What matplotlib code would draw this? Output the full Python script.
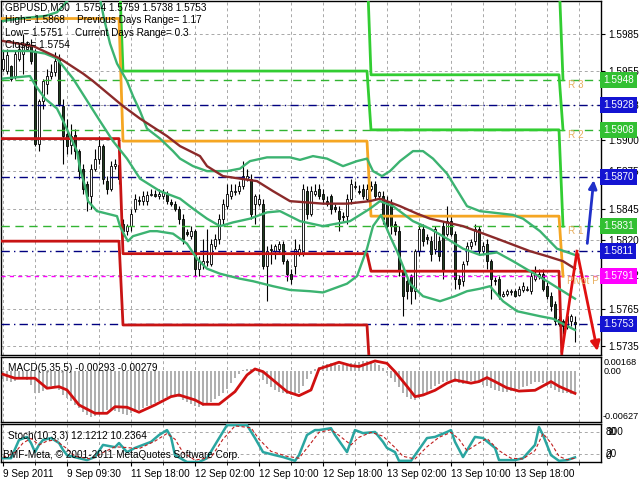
import numpy as np
import matplotlib.pyplot as plt
import matplotlib.transforms as mtransforms

# ---- GBPUSD M30 candles (bar index 0..143) ----
opens = [1.5957, 1.5955, 1.5959, 1.5951, 1.5965, 1.5969, 1.5973, 1.5975, 1.5971, 1.5897,
         1.5931, 1.5945, 1.5951, 1.5954, 1.5965, 1.5927, 1.5905, 1.5896, 1.5904, 1.5891,
         1.5877, 1.5865, 1.5855, 1.5877, 1.5885, 1.5895, 1.5867, 1.5861, 1.5879, 1.5880,
         1.5833, 1.5827, 1.5831, 1.5845, 1.5852, 1.5851, 1.5851, 1.5856, 1.5857, 1.5855,
         1.5855, 1.5857, 1.5850, 1.5849, 1.5845, 1.5837, 1.5826, 1.5823, 1.5827, 1.5797,
         1.5801, 1.5802, 1.5801, 1.5815, 1.5821, 1.5837, 1.5847, 1.5855, 1.5858, 1.5859,
         1.5863, 1.5869, 1.5869, 1.5849, 1.5849, 1.5849, 1.5799, 1.5813, 1.5811, 1.5813,
         1.5817, 1.5803, 1.5793, 1.5799, 1.5809, 1.5809, 1.5859, 1.5841, 1.5857, 1.5861,
         1.5857, 1.5851, 1.5855, 1.5846, 1.5843, 1.5839, 1.5839, 1.5853, 1.5862, 1.5859,
         1.5861, 1.5853, 1.5861, 1.5865, 1.5855, 1.5855, 1.5851, 1.5849, 1.5833, 1.5827,
         1.5795, 1.5787, 1.5791, 1.5779, 1.5811, 1.5829, 1.5822, 1.5819, 1.5813, 1.5819,
         1.5831, 1.5825, 1.5835, 1.5825, 1.5789, 1.5787, 1.5803, 1.5815, 1.5819, 1.5829,
         1.5811, 1.5817, 1.5803, 1.5788, 1.5789, 1.5775, 1.5777, 1.5778, 1.5779, 1.5776,
         1.5780, 1.5780, 1.5779, 1.5789, 1.5791, 1.5793, 1.5783, 1.5775, 1.5769, 1.5757,
         1.5755, 1.5751, 1.5755, 1.5754]
highs = [1.5971, 1.5973, 1.5960, 1.5971, 1.5977, 1.5985, 1.5979, 1.5981, 1.5973, 1.5933,
         1.5949, 1.5957, 1.5961, 1.5970, 1.5969, 1.5933, 1.5917, 1.5913, 1.5909, 1.5893,
         1.5881, 1.5867, 1.5881, 1.5893, 1.5903, 1.5897, 1.5871, 1.5883, 1.5885, 1.5883,
         1.5837, 1.5833, 1.5845, 1.5857, 1.5855, 1.5859, 1.5859, 1.5861, 1.5860, 1.5861,
         1.5861, 1.5859, 1.5853, 1.5851, 1.5847, 1.5841, 1.5829, 1.5831, 1.5829, 1.5807,
         1.5821, 1.5829, 1.5821, 1.5825, 1.5841, 1.5853, 1.5865, 1.5865, 1.5865, 1.5867,
         1.5883, 1.5877, 1.5873, 1.5857, 1.5857, 1.5853, 1.5815, 1.5817, 1.5817, 1.5819,
         1.5819, 1.5805, 1.5797, 1.5821, 1.5817, 1.5865, 1.5863, 1.5863, 1.5865, 1.5865,
         1.5861, 1.5855, 1.5857, 1.5849, 1.5847, 1.5842, 1.5857, 1.5869, 1.5867, 1.5864,
         1.5865, 1.5865, 1.5867, 1.5867, 1.5859, 1.5859, 1.5855, 1.5853, 1.5835, 1.5831,
         1.5799, 1.5791, 1.5793, 1.5813, 1.5832, 1.5833, 1.5825, 1.5823, 1.5831, 1.5823,
         1.5835, 1.5847, 1.5839, 1.5827, 1.5792, 1.5803, 1.5818, 1.5821, 1.5833, 1.5831,
         1.5818, 1.5821, 1.5805, 1.5790, 1.5791, 1.5779, 1.5781, 1.5781, 1.5781, 1.5783,
         1.5786, 1.5783, 1.5794, 1.5799, 1.5797, 1.5797, 1.5786, 1.5778, 1.5771, 1.5759,
         1.5757, 1.5761, 1.5761, 1.5759]
lows = [1.5955, 1.5953, 1.5947, 1.5949, 1.5963, 1.5953, 1.5971, 1.5961, 1.5895, 1.5891,
        1.5925, 1.5937, 1.5949, 1.5951, 1.5927, 1.5881, 1.5889, 1.5889, 1.5885, 1.5869,
        1.5857, 1.5843, 1.5845, 1.5875, 1.5881, 1.5865, 1.5857, 1.5859, 1.5877, 1.5865,
        1.5823, 1.5824, 1.5827, 1.5842, 1.5848, 1.5848, 1.5848, 1.5855, 1.5854, 1.5853,
        1.5853, 1.5849, 1.5847, 1.5843, 1.5833, 1.5817, 1.5823, 1.5821, 1.5791, 1.5791,
        1.5797, 1.5799, 1.5799, 1.5813, 1.5817, 1.5833, 1.5845, 1.5853, 1.5856, 1.5857,
        1.5861, 1.5867, 1.5837, 1.5833, 1.5847, 1.5797, 1.5771, 1.5801, 1.5805, 1.5809,
        1.5801, 1.5787, 1.5785, 1.5793, 1.5807, 1.5807, 1.5837, 1.5839, 1.5855, 1.5853,
        1.5849, 1.5847, 1.5841, 1.5842, 1.5827, 1.5835, 1.5833, 1.5849, 1.5861, 1.5857,
        1.5853, 1.5851, 1.5859, 1.5853, 1.5853, 1.5833, 1.5827, 1.5825, 1.5824, 1.5791,
        1.5759, 1.5773, 1.5769, 1.5773, 1.5807, 1.5815, 1.5817, 1.5803, 1.5809, 1.5803,
        1.5789, 1.5823, 1.5823, 1.5781, 1.5781, 1.5783, 1.5800, 1.5813, 1.5816, 1.5808,
        1.5809, 1.5797, 1.5773, 1.5784, 1.5773, 1.5774, 1.5775, 1.5776, 1.5774, 1.5775,
        1.5778, 1.5779, 1.5777, 1.5787, 1.5789, 1.5779, 1.5773, 1.5763, 1.5752, 1.5751,
        1.5745, 1.5749, 1.5751, 1.5738]
closes = [1.5965, 1.5968, 1.5949, 1.5969, 1.5973, 1.5977, 1.5977, 1.5963, 1.5897, 1.5931,
          1.5947, 1.5951, 1.5954, 1.5963, 1.5929, 1.5903, 1.5895, 1.5903, 1.5891, 1.5875,
          1.5861, 1.5855, 1.5877, 1.5885, 1.5895, 1.5869, 1.5861, 1.5879, 1.5881, 1.5869,
          1.5827, 1.5831, 1.5841, 1.5853, 1.5851, 1.5855, 1.5856, 1.5857, 1.5855, 1.5857,
          1.5858, 1.5851, 1.5849, 1.5845, 1.5837, 1.5821, 1.5825, 1.5827, 1.5797, 1.5803,
          1.5803, 1.5803, 1.5817, 1.5821, 1.5837, 1.5849, 1.5857, 1.5859, 1.5859, 1.5863,
          1.5871, 1.5871, 1.5841, 1.5855, 1.5853, 1.5799, 1.5811, 1.5812, 1.5815, 1.5817,
          1.5803, 1.5793, 1.5789, 1.5813, 1.5813, 1.5861, 1.5841, 1.5859, 1.5859, 1.5855,
          1.5853, 1.5849, 1.5845, 1.5845, 1.5837, 1.5838, 1.5853, 1.5865, 1.5863, 1.5858,
          1.5855, 1.5861, 1.5863, 1.5855, 1.5858, 1.5837, 1.5831, 1.5831, 1.5827, 1.5795,
          1.5775, 1.5779, 1.5779, 1.5811, 1.5829, 1.5819, 1.5821, 1.5809, 1.5829, 1.5807,
          1.5795, 1.5835, 1.5825, 1.5789, 1.5785, 1.5801, 1.5815, 1.5818, 1.5829, 1.5811,
          1.5815, 1.5803, 1.5789, 1.5787, 1.5775, 1.5777, 1.5779, 1.5779, 1.5775, 1.5781,
          1.5783, 1.5781, 1.5791, 1.5793, 1.5793, 1.5781, 1.5775, 1.5767, 1.5755, 1.5753,
          1.5751, 1.5759, 1.5759, 1.5753]

# ---- overlay indicators (read at the bars listed) ----
bb_up_bar = [0, 4, 10.5, 13.5, 15.5, 18, 21.75, 24.25, 25.25, 26.75, 28.5, 31, 32.5, 34.25, 36, 39.25,
             42.5, 44.25, 47.5, 51, 56, 59.25, 61.75, 66, 71.75, 74.25, 77.5, 81, 85, 88.5, 91, 92.5,
             94.75, 96.75, 99.25, 102.5, 105, 107.5, 111, 116, 119.25, 127.5, 130, 134.25, 138.5, 143]
bb_up = [1.5995, 1.5997, 1.5999, 1.6002, 1.6009, 1.6018, 1.6019, 1.6013, 1.5997, 1.5977, 1.5961, 1.5947,
         1.5935, 1.5923, 1.5909, 1.5901, 1.5891, 1.5885, 1.5879, 1.5875, 1.5875, 1.5877, 1.5883, 1.5886,
         1.5886, 1.5884, 1.5887, 1.5885, 1.5879, 1.5883, 1.5885, 1.5875, 1.5871, 1.5875, 1.5883, 1.5891,
         1.5891, 1.5885, 1.5873, 1.5847, 1.5843, 1.5840, 1.5837, 1.5827, 1.5813, 1.5808]
bb_mid_bar = [0, 6.75, 10.5, 13.5, 17.5, 24.25, 27.5, 31, 34.25, 39.25, 44.25, 47.5, 51, 54.25, 57.5,
              61.75, 66, 69.25, 74.25, 80, 86.75, 91.75, 94.25, 97.5, 102.5, 106.75, 111, 115, 119.25,
              123.5, 127.5, 131.75, 136, 140, 143]
bb_mid = [1.5971, 1.5971, 1.5969, 1.5965, 1.5949, 1.5915, 1.5899, 1.5885, 1.5869, 1.5859, 1.5853, 1.5845,
          1.5837, 1.5831, 1.5834, 1.5837, 1.5842, 1.5843, 1.5835, 1.5831, 1.5835, 1.5845, 1.5851, 1.5847,
          1.5835, 1.5829, 1.5821, 1.5813, 1.5808, 1.5810, 1.5803, 1.5795, 1.5787, 1.5779, 1.5773]
bb_low_bar = [0, 6.75, 8, 10.5, 13.5, 14.75, 18.5, 19.25, 20.5, 21.25, 23.5, 28.5, 29.25, 30.5, 31.25,
              32.5, 36.75, 38.5, 42.5, 46, 48.5, 51, 54.25, 59.25, 62.5, 67.5, 71.75, 76.75, 80, 86,
              88.5, 91, 92.5, 94.5, 96.75, 98.5, 101.75, 105, 109.25, 113, 116, 119.25, 121.75, 125,
              128.5, 134.25, 137.5, 140.5, 143]
bb_low = [1.5949, 1.5951, 1.5944, 1.5933, 1.5925, 1.5917, 1.5891, 1.5877, 1.5863, 1.5851, 1.5843, 1.5839,
          1.5831, 1.5823, 1.5819, 1.5823, 1.5827, 1.5827, 1.5825, 1.5817, 1.5805, 1.5797, 1.5793, 1.5789,
          1.5787, 1.5783, 1.5780, 1.5779, 1.5778, 1.5785, 1.5791, 1.5813, 1.5831, 1.5840, 1.5823, 1.5811,
          1.5785, 1.5775, 1.5771, 1.5775, 1.5779, 1.5781, 1.5783, 1.5771, 1.5763, 1.5759, 1.5757, 1.5752,
          1.5748]
ma_bar = [0, 7.5, 14.25, 20, 22.5, 28.5, 30, 34.25, 41, 44.25, 49.25, 51, 55, 59.25, 63.5, 67.5, 71.75,
          80, 86, 91.75, 94.25, 99.25, 103.5, 106.75, 115, 123.5, 131.75, 136, 140, 143]
ma = [1.5979, 1.5975, 1.5965, 1.5953, 1.5947, 1.5931, 1.5927, 1.5917, 1.5903, 1.5895, 1.5887, 1.5879,
      1.5871, 1.5869, 1.5867, 1.5859, 1.5851, 1.5849, 1.5849, 1.5851, 1.5853, 1.5847, 1.5841, 1.5837,
      1.5831, 1.5821, 1.5811, 1.5807, 1.5803, 1.5797]

# ---- daily pivot levels (one value per day) ----
day_first = [0, 30, 92, 140]
day_last = [29, 91, 139, 140]
piv_p = [1.5997, 1.5899, 1.5839, 1.5791]
piv_r1 = [1.6040, 1.5955, 1.5908, 1.5831]
piv_r2 = [1.6060, 1.6040, 1.5952, 1.5908]
piv_r3 = [1.6080, 1.6060, 1.6030, 1.5948]
piv_s1 = [1.5901, 1.5809, 1.5795, 1.5700]
piv_s2 = [1.5819, 1.5752, 1.5700, 1.5650]

blue_levels = [1.5928, 1.5870, 1.5811, 1.5753]
green_levels = [1.5948, 1.5908, 1.5831]
green_names = ["R 3", "R 2", "R 1"]
pivot_level = 1.5791

# projection arrows
down_bar = [139.75, 143.5, 148.75]
down_px = [1.5731, 1.5811, 1.5729]
up_bar = [146, 147.75]
up_px = [1.5815, 1.5870]

price_ticks = [1.5985, 1.5955, 1.5928, 1.5900, 1.5875, 1.5845, 1.5820, 1.5792, 1.5765, 1.5735]

# ---- MACD(5,35,5) ----
macd_hist = [-0.0010, -0.0012, -0.0013, -0.0012, -0.0010, -0.0009, -0.0011, -0.0017, -0.0027, -0.0027,
             -0.0025, -0.0021, -0.0019, -0.0020, -0.0024, -0.0030, -0.0034, -0.0037, -0.0042, -0.0046,
             -0.0051, -0.0055, -0.0058, -0.0057, -0.0054, -0.0051, -0.0049, -0.0049, -0.0050, -0.0052,
             -0.0054, -0.0055, -0.0053, -0.0051, -0.0049, -0.0046, -0.0044, -0.0042, -0.0040, -0.0038,
             -0.0035, -0.0032, -0.0031, -0.0031, -0.0033, -0.0036, -0.0039, -0.0041, -0.0044, -0.0045,
             -0.0044, -0.0042, -0.0039, -0.0035, -0.0031, -0.0027, -0.0022, -0.0015, -0.0009, -0.0003,
             0.0001, 0.0003, 0.0003, 0.0000, -0.0005, -0.0011, -0.0016, -0.0020, -0.0024, -0.0026,
             -0.0028, -0.0029, -0.0030, -0.0030, -0.0027, -0.0019, -0.0010, -0.0003, 0.0003, 0.0006,
             0.0008, 0.0009, 0.0010, 0.0009, 0.0008, 0.0008, 0.0009, 0.0010, 0.0011, 0.0012,
             0.0013, 0.0013, 0.0012, 0.0011, 0.0008, 0.0004, -0.0002, -0.0008, -0.0014, -0.0020,
             -0.0027, -0.0032, -0.0035, -0.0036, -0.0034, -0.0030, -0.0026, -0.0022, -0.0019, -0.0016,
             -0.0014, -0.0012, -0.0011, -0.0013, -0.0015, -0.0016, -0.0014, -0.0012, -0.0012, -0.0014,
             -0.0017, -0.0019, -0.0021, -0.0023, -0.0025, -0.0026, -0.0026, -0.0025, -0.0024, -0.0022,
             -0.0020, -0.0018, -0.0016, -0.0014, -0.0013, -0.0015, -0.0018, -0.0021, -0.0024, -0.0026,
             -0.0027, -0.0028, -0.0029, -0.00293]
macd_sig_bar = [0, 3, 8, 11, 14, 16, 19, 23, 26, 28, 31, 34, 38, 42, 44, 48, 50, 54, 58, 61, 63, 65, 68,
                71, 74, 77, 79, 82, 84, 87, 89, 93, 96, 98, 101, 103, 105, 108, 111, 113, 117, 119, 121,
                123, 126, 129, 133, 137, 139, 143]
macd_sig = [-0.00038, -0.00088, -0.00088, -0.00214, -0.00194, -0.00236, -0.00425, -0.00530, -0.00530,
            -0.00447, -0.00454, -0.00517, -0.00425, -0.00320, -0.00299, -0.00362, -0.00416, -0.00416,
            -0.00257, -0.00047, 0.00029, -0.00005, -0.00131, -0.00257, -0.00308, -0.00236, 0.00030,
            0.00080, 0.00114, 0.00071, 0.00060, 0.00130, 0.00100, -0.00005, -0.00190, -0.00320, -0.00300,
            -0.00240, -0.00150, -0.00110, -0.00150, -0.00130, -0.00080, -0.00130, -0.00210, -0.00250,
            -0.00240, -0.00130, -0.00190, -0.00279]

# ---- Stochastic(10,3,3) ----
st_bar = [0, 2, 4, 6, 7, 8, 9, 10, 12, 14, 15, 16, 19, 21, 23, 25, 28, 29, 31, 33, 37, 39, 41, 42, 43,
          46, 49, 51, 53, 56, 58, 61, 63, 65, 68, 70, 73, 74, 76, 78, 79, 82, 83, 86, 88, 90, 93, 95,
          96, 98, 99, 102, 103, 106, 108, 111, 112, 113, 115, 118, 120, 123, 124, 128, 130, 133, 134,
          135, 137, 139, 141, 143]
st_main = [10, 10, 58, 66, 50, 26, 45, 58, 63, 50, 32, 18, 10, 5, 13, 45, 39, 50, 26, 37, 53, 71, 84,
           66, 18, 0, 0, 10, 45, 97, 97, 97, 63, 26, 18, 13, 3, 18, 71, 84, 84, 89, 71, 26, 84, 76, 79,
           53, 37, 26, 3, 3, 18, 63, 66, 79, 84, 53, 13, 66, 63, 37, 5, 5, 10, 45, 92, 71, 18, 3, 5,
           12.1212]
st_sig_bar = [0, 3, 5, 7, 9, 11, 13, 16, 18, 22, 25, 28, 31, 34, 38, 41, 43, 45, 48, 52, 55, 58, 62, 64,
              67, 71, 74, 77, 79, 82, 84, 87, 89, 92, 95, 98, 100, 103, 106, 109, 112, 114, 116, 119,
              121, 124, 127, 130, 133, 135, 137, 139, 141, 143]
st_sig = [12, 25, 50, 62, 45, 55, 58, 35, 15, 8, 25, 40, 38, 35, 55, 75, 60, 25, 5, 12, 60, 95, 90, 60,
          28, 15, 10, 50, 78, 85, 70, 45, 65, 78, 68, 38, 15, 8, 40, 65, 78, 60, 30, 50, 62, 30, 10, 8,
          30, 75, 50, 15, 6, 10.2364]

date_bars = [0, 16, 32, 48, 64, 80, 96, 112, 128]
date_labels = ["9 Sep 2011", "9 Sep 09:30", "11 Sep 18:00", "12 Sep 02:00", "12 Sep 10:00",
               "12 Sep 18:00", "13 Sep 02:00", "13 Sep 10:00", "13 Sep 18:00"]

plt.rcParams['font.family'] = ['Liberation Sans', 'DejaVu Sans']
FS = 7.2
SFS = 6.6
GRID = dict(color='#A8A8A8', lw=0.7, ls=(0, (3, 3)))
W, H = 640, 480
fig = plt.figure(figsize=(6.4, 4.8), dpi=100)


def pax(x0, y0, x1, y1):
    return fig.add_axes([x0 / W, 1 - y1 / H, (x1 - x0) / W, (y1 - y0) / H])


def ftext(x, y, s, **kw):
    fig.text(x / W, 1 - y / H, s, va='center', fontsize=FS, **kw)


ax = pax(1, 1, 601, 355)
axm = pax(1, 357, 601, 422)
axs = pax(1, 424, 601, 462)

n = len(closes)
xb = np.arange(n)
o = np.array(opens); c = np.array(closes)
for a in (ax, axm, axs):
    a.set_xlim(-0.5, 149.5)
    a.set_xticks(np.arange(0, 150, 8))
    a.grid(axis='x', **GRID)
    a.tick_params(axis='x', length=0, labelbottom=False)
    for s in a.spines.values():
        s.set_linewidth(1.0)

# ---- main chart ----
ax.set_ylim(1.5728, 1.6011)
ax.yaxis.tick_right()
ax.set_yticks(price_ticks)
ax.set_yticklabels(["%.4f" % v for v in price_ticks], fontsize=FS)
ax.tick_params(axis='y', length=3, pad=2)
ax.grid(axis='y', **GRID)

ax.vlines(xb, lows, highs, color='black', lw=0.8, zorder=2)
bull = c >= o
body = np.maximum(np.abs(c - o), 0.00002)
ax.bar(xb[bull], body[bull], bottom=np.minimum(o, c)[bull], width=0.7,
       color='white', edgecolor='black', lw=0.6, zorder=3)
ax.bar(xb[~bull], body[~bull], bottom=np.minimum(o, c)[~bull], width=0.7,
       color='#1f3d1f', edgecolor='black', lw=0.6, zorder=3)

for lv in blue_levels:
    ax.axhline(lv, color='#000080', lw=1, ls=(0, (6, 3, 1, 3)), zorder=4)
for lv in green_levels:
    ax.axhline(lv, color='#32B432', lw=1, ls=(0, (6, 4)), zorder=4)
ax.axhline(pivot_level, color='#FF00FF', lw=1, ls=(0, (3, 3)), zorder=4)


def steps(levels):
    xs, ys = [], []
    for a0, a1, v in zip(day_first, day_last, levels):
        xs += [a0 - (0.5 if a0 == 0 else 0), a1]
        ys += [v, v]
    return xs, ys


for lv, col in [(piv_r1, '#32CD32'), (piv_r2, '#32CD32'), (piv_r3, '#32CD32'),
                (piv_p, '#F5A623'), (piv_s1, '#C81414'), (piv_s2, '#C81414')]:
    sx, sy = steps(lv)
    ax.plot(sx, sy, color=col, lw=2, zorder=5)

ax.plot(bb_up_bar, bb_up, color='#3CB371', lw=1.7, zorder=6)
ax.plot(bb_mid_bar, bb_mid, color='#3CB371', lw=1.7, zorder=6)
ax.plot(bb_low_bar, bb_low, color='#3CB371', lw=1.7, zorder=6)
ax.plot(ma_bar, ma, color='#8B2A2A', lw=1.7, zorder=6)

ax.plot(down_bar[:2], down_px[:2], color='#E01010', lw=2, zorder=7, clip_on=False)
ax.annotate('', xy=(down_bar[2], down_px[2]), xytext=(down_bar[1], down_px[1]),
            arrowprops=dict(arrowstyle='-|>', color='#E01010', lw=2, mutation_scale=14),
            zorder=7, annotation_clip=False)
ax.annotate('', xy=(up_bar[1], up_px[1]), xytext=(up_bar[0], up_px[0]),
            arrowprops=dict(arrowstyle='-|>', color='#2030C8', lw=2, mutation_scale=12), zorder=7)

lab_tr = mtransforms.blended_transform_factory(ax.transAxes, ax.transData)
box_items = [(v, '#1414D2') for v in blue_levels] + [(v, '#32C032') for v in green_levels] + \
            [(pivot_level, '#FF00FF')]
for v, col in box_items:
    ax.text(1.004, v, "%.4f" % v, transform=lab_tr, ha='left', va='center', fontsize=FS,
            color='white', zorder=10, clip_on=False,
            bbox=dict(boxstyle='square,pad=0.3', fc=col, ec='none'))
for v, name in zip(green_levels, green_names):
    ax.text(141.2, v, name, ha='left', va='top', fontsize=FS, color='#E8B060', zorder=8)
ax.text(141.0, pivot_level, "Pivot P", ha='left', va='top', fontsize=FS, color='#E8B060', zorder=8)

ftext(5, 8, "GBPUSD,M30  %.4f %.4f %.4f %.4f" % (opens[-1], highs[-1], lows[-1], closes[-1]))
ftext(5, 20, "High= 1.5868")
ftext(77, 20, "Previous Days Range= 1.17")
ftext(5, 33, "Low= 1.5751")
ftext(75, 33, "Current Days Range= 0.3")
ftext(5, 45, "Close= 1.5754")

# ---- MACD ----
axm.set_ylim(-0.0064, 0.0018)
axm.set_yticks([])
axm.bar(xb, macd_hist, width=0.5, color='#B0B0B0', zorder=2)
axm.plot(macd_sig_bar, macd_sig, color='#D01010', lw=2, zorder=3)
mtr = mtransforms.blended_transform_factory(axm.transAxes, axm.transData)
axm.text(1.005, 0.00168, "0.00168", transform=mtr, va='top', fontsize=SFS)
axm.text(1.005, 0.0, "0.00", transform=mtr, va='center', fontsize=SFS)
axm.text(1.003, -0.00627, "-0.00627", transform=mtr, va='bottom', fontsize=SFS)
ftext(8, 368, "MACD(5,35,5) %.5f %.5f" % (macd_hist[-1], macd_sig[-1]))

# ---- Stochastic ----
axs.set_ylim(0, 100)
axs.set_yticks([])
axs.axhline(80, **GRID)
axs.axhline(20, **GRID)
axs.plot(st_bar, st_main, color='#2AA5A0', lw=1.8, zorder=3)
axs.plot(st_sig_bar, st_sig, color='#C02020', lw=0.8, ls=(0, (3, 2)), zorder=4)
strn = mtransforms.blended_transform_factory(axs.transAxes, axs.transData)
axs.text(1.008, 80, "100", transform=strn, va='center', fontsize=FS)
axs.text(1.008, 80, "80", transform=strn, va='center', fontsize=FS)
axs.text(1.008, 20, "20", transform=strn, va='center', fontsize=FS)
axs.text(1.008, 15, "0", transform=strn, va='center', fontsize=FS)
ftext(8, 436, "Stoch(10,3,3) %.4f %.4f" % (st_main[-1], st_sig[-1]))
ftext(3, 455, "BMF-Meta, \u00a9 2001-2011 MetaQuotes Software Corp.")

axs.set_xticks(date_bars)
axs.set_xticklabels(date_labels, ha='left', fontsize=FS)
axs.tick_params(axis='x', length=3, labelbottom=True, pad=2)
axs.grid(axis='x', **GRID)
axs.set_xticks(np.arange(0, 150, 8), minor=True)
axs.grid(axis='x', which='minor', **GRID)

fig.savefig('out.png', dpi=100)
